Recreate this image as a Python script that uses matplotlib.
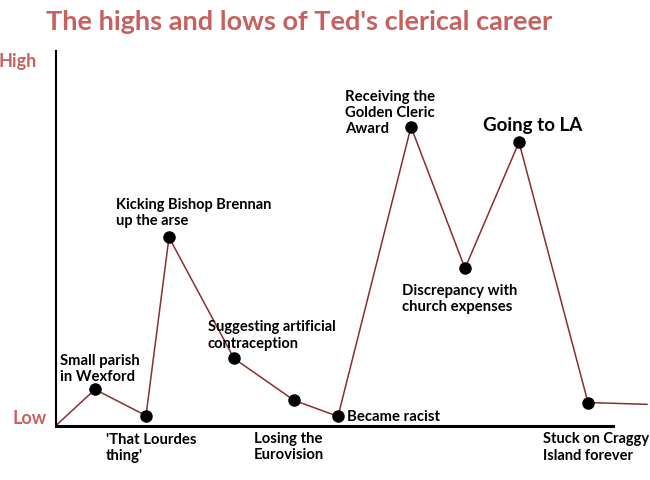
import matplotlib
matplotlib.use("Agg")
import matplotlib.pyplot as plt

# ---- data ----
x_pos = [0, 39, 90, 113, 178, 238, 282, 355, 409, 463, 532, 591]
career = [0, 9.9, 2.7, 51.6, 18.4, 6.9, 2.5, 81.9, 43.1, 77.7, 6.3, 5.8]
event_labels = [None,
                "Small parish\nin Wexford",
                "'That Lourdes\nthing'",
                "Kicking Bishop Brennan\nup the arse",
                "Suggesting artificial\ncontraception",
                "Losing the\nEurovision",
                "Became racist",
                "Receiving the\nGolden Cleric\nAward",
                "Discrepancy with\nchurch expenses",
                "Going to LA",
                "Stuck on Craggy\nIsland forever",
                None]
level_values = [2.2, 100]
level_labels = ["Low", "High"]

# ---- layout / style ----
label_offsets = [None, (-35, 21), (-40, -31), (-53, 25), (-26, 24), (-40, -46),
                 (9, 0), (-66, 15), (-63, -30), (-36, 18), (-45, -44), None]
label_sizes = [None, 10.7, 10.7, 10.5, 10.5, 10.7, 10.7, 10.7, 10.7, 13.5, 10.5, None]
level_offsets = [-9, -19]
FONT = "Lato"
RED = "#C5625F"
LINE = "#8B2E2E"

fig = plt.figure(figsize=(6.5, 4.81), dpi=100)
W, H = 650, 481
ax = fig.add_axes([56 / W, (H - 426.5) / H, 557 / W, (426.5 - 52) / H])
ax.set_xlim(0, 557)
ax.set_ylim(0, 102.7)

ax.plot(x_pos, career, color=LINE, lw=1.1, clip_on=False, zorder=2)
ax.plot(x_pos[1:-1], career[1:-1], "o", color="black", ms=8, clip_on=False, zorder=3)

for xv, yv, lab, off, fs in zip(x_pos, career, event_labels, label_offsets, label_sizes):
    if lab is None:
        continue
    ax.annotate(lab, xy=(xv, yv), xytext=off, textcoords="offset pixels",
                ha="left", va="center", fontsize=fs, fontfamily=FONT,
                fontweight="bold", color="black", linespacing=1.2,
                annotation_clip=False)

for val, lab, off in zip(level_values, level_labels, level_offsets):
    ax.annotate(lab, xy=(0, val), xytext=(off, 0), textcoords="offset pixels",
                ha="right", va="center", fontsize=13, fontfamily=FONT,
                fontweight="bold", color=RED, annotation_clip=False)

for s in ["top", "right"]:
    ax.spines[s].set_visible(False)
ax.spines["left"].set_linewidth(1.5)
ax.spines["bottom"].set_linewidth(2.2)
ax.spines["left"].set_color("black")
ax.spines["bottom"].set_color("black")
ax.set_xticks([])
ax.set_yticks([])

fig.text(299 / W, 1 - 22 / H, "The highs and lows of Ted's clerical career",
         ha="center", va="center", fontsize=19.5, fontfamily=FONT,
         fontweight="bold", color=RED)

fig.savefig("out.png", dpi=100)
